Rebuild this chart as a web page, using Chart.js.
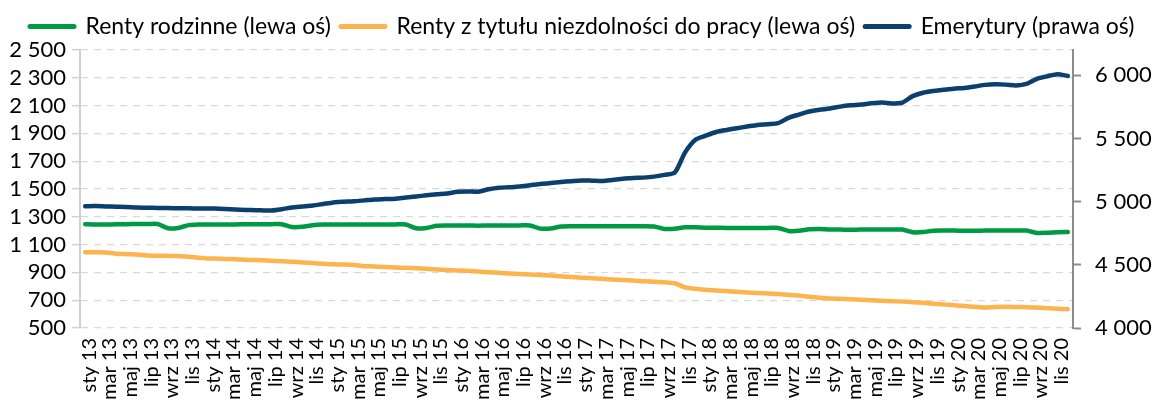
<!DOCTYPE html>
<html>
<head>
<meta charset="utf-8">
<script src="https://cdn.jsdelivr.net/npm/chart.js@4/dist/chart.umd.min.js"></script>
<style>
  html, body { margin: 0; padding: 0; background: #ffffff; }
  #wrap { width: 1157px; height: 400px; }
</style>
</head>
<body>
<div id="wrap"><canvas id="c" width="1157" height="400"></canvas></div>
<script>
const categories = [
  'sty 13','lut 13','mar 13','kwi 13','maj 13','cze 13','lip 13','sie 13','wrz 13','paź 13','lis 13','gru 13',
  'sty 14','lut 14','mar 14','kwi 14','maj 14','cze 14','lip 14','sie 14','wrz 14','paź 14','lis 14','gru 14',
  'sty 15','lut 15','mar 15','kwi 15','maj 15','cze 15','lip 15','sie 15','wrz 15','paź 15','lis 15','gru 15',
  'sty 16','lut 16','mar 16','kwi 16','maj 16','cze 16','lip 16','sie 16','wrz 16','paź 16','lis 16','gru 16',
  'sty 17','lut 17','mar 17','kwi 17','maj 17','cze 17','lip 17','sie 17','wrz 17','paź 17','lis 17','gru 17',
  'sty 18','lut 18','mar 18','kwi 18','maj 18','cze 18','lip 18','sie 18','wrz 18','paź 18','lis 18','gru 18',
  'sty 19','lut 19','mar 19','kwi 19','maj 19','cze 19','lip 19','sie 19','wrz 19','paź 19','lis 19','gru 19',
  'sty 20','lut 20','mar 20','kwi 20','maj 20','cze 20','lip 20','sie 20','wrz 20','paź 20','lis 20','gru 20'
];

// Renty rodzinne (lewa oś)
const rentyRodzinne = [
  1247,1245,1245,1246,1247,1248,1248,1248,1218,1220,1240,1245,
  1245,1245,1245,1246,1246,1247,1247,1247,1226,1228,1240,1244,
  1244,1244,1244,1244,1244,1245,1245,1245,1217,1220,1235,1237,
  1237,1237,1236,1237,1237,1238,1238,1238,1215,1216,1230,1232,
  1232,1232,1232,1232,1232,1232,1232,1230,1213,1214,1225,1224,
  1222,1221,1220,1220,1220,1220,1220,1220,1198,1199,1210,1213,
  1208,1208,1207,1208,1208,1208,1208,1208,1189,1190,1200,1201,
  1201,1200,1200,1201,1201,1201,1201,1201,1184,1185,1189,1191
];

// Renty z tytułu niezdolności do pracy (lewa oś)
const rentyNiezdolnosc = [
  1045,1045,1044,1035,1031,1028,1021,1020,1019,1018,1012,1006,
  1000,999,997,993,990,987,983,980,976,972,967,962,
  958,957,954,945,943,938,935,933,930,926,921,917,
  914,911,906,901,897,892,888,885,881,877,872,867,
  861,858,854,849,845,841,836,833,829,822,792,783,
  775,770,766,760,756,752,748,744,740,733,725,718,
  712,710,707,704,700,696,693,690,686,681,675,670,
  663,658,653,648,651,652,651,650,648,643,638,635
];

// Emerytury (prawa oś)
const emerytury = [
  4964,4965,4962,4960,4958,4953,4952,4950,4949,4948,4947,4946,
  4946,4944,4940,4936,4933,4931,4930,4940,4954,4962,4970,4982,
  4994,4999,5003,5010,5017,5020,5023,5033,5041,5050,5058,5065,
  5078,5081,5079,5098,5110,5114,5119,5130,5140,5147,5155,5162,
  5168,5166,5163,5172,5182,5187,5190,5198,5212,5230,5390,5490,
  5522,5551,5567,5581,5594,5607,5613,5621,5663,5689,5713,5727,
  5737,5752,5762,5768,5778,5784,5777,5784,5835,5862,5876,5886,
  5894,5900,5911,5924,5928,5926,5920,5932,5972,5992,6008,5995
];

const seriesNames = [
  'Renty rodzinne (lewa oś)',
  'Renty z tytułu niezdolności do pracy (lewa oś)',
  'Emerytury (prawa oś)'
];

// tick values
const leftTicks = [500, 700, 900, 1100, 1300, 1500, 1700, 1900, 2100, 2300, 2500];
const rightTicks = [4000, 4500, 5000, 5500, 6000];
const leftRange = [500, 2500];
const rightRange = [4000, 6200];

function fmt(v) {
  return String(v).replace(/\B(?=(\d{3})+(?!\d))/g, ' ');
}

const FONT = 'Lato';

const legendFix = {
  id: 'legendFix',
  beforeLayout(chart) {
    const lg = chart.legend;
    if (lg && !lg._patched) {
      const orig = lg.fit;
      lg.fit = function () { orig.call(this); this.height = 45; };
      lg._patched = true;
    }
  },
  afterLayout(chart) {
    if (chart.legend) { chart.legend.left = 20; }
  }
};

new Chart(document.getElementById('c'), {
  type: 'line',
  data: {
    labels: categories,
    datasets: [
      {
        label: seriesNames[0], data: rentyRodzinne, yAxisID: 'y',
        borderColor: '#009A44', backgroundColor: '#009A44'
      },
      {
        label: seriesNames[1], data: rentyNiezdolnosc, yAxisID: 'y',
        borderColor: '#FDB44E', backgroundColor: '#FDB44E'
      },
      {
        label: seriesNames[2], data: emerytury, yAxisID: 'y1',
        borderColor: '#0B3F6E', backgroundColor: '#0B3F6E'
      }
    ]
  },
  plugins: [legendFix],
  options: {
    responsive: false,
    animation: false,
    devicePixelRatio: 1,
    layout: { padding: { left: 0, right: 0, top: 5, bottom: 0 } },
    elements: {
      line: { borderWidth: 4.5, tension: 0.25, borderCapStyle: 'round', borderJoinStyle: 'round', fill: false },
      point: { radius: 0, hoverRadius: 0 }
    },
    plugins: {
      tooltip: { enabled: false },
      legend: {
        display: true,
        position: 'top',
        align: 'start',
        labels: {
          usePointStyle: true,
          pointStyle: 'line',
          pointStyleWidth: 44,
          boxHeight: 23,
          padding: 10,
          color: '#000000',
          font: { family: FONT, size: 23 },
          generateLabels: function (chart) {
            return Chart.defaults.plugins.legend.labels.generateLabels(chart).map(function (l) {
              l.lineWidth = 5;
              l.lineCap = 'round';
              return l;
            });
          }
        }
      }
    },
    scales: {
      x: {
        type: 'category',
        offset: true,
        grid: { display: false },
        border: { display: false },
        afterFit: s => { s.height = 72; },
        ticks: {
          autoSkip: false,
          maxRotation: 90,
          minRotation: 90,
          padding: 2,
          labelOffset: 4,
          color: '#000000',
          font: { family: FONT, size: 20 },
          callback: function (v, i) { return i % 2 === 0 ? categories[i] : null; }
        }
      },
      y: {
        position: 'left',
        min: leftRange[0],
        max: leftRange[1],
        afterFit: s => { s.width = 80; },
        afterBuildTicks: s => { s.ticks = leftTicks.map(v => ({ value: v })); },
        border: { display: true, color: '#d0d0d0', width: 2, dash: [7, 6] },
        grid: {
          color: '#d9d9d9', lineWidth: 1.3,
          drawTicks: true, tickLength: 8, tickColor: '#d0d0d0', tickWidth: 1.5, tickBorderDash: []
        },
        ticks: {
          autoSkip: false,
          padding: 6,
          color: '#000000',
          font: { family: FONT, size: 22 },
          callback: v => fmt(v)
        }
      },
      y1: {
        position: 'right',
        min: rightRange[0],
        max: rightRange[1],
        afterFit: s => { s.width = 84; },
        afterBuildTicks: s => { s.ticks = rightTicks.map(v => ({ value: v })); },
        border: { display: true, color: '#8c8c8c', width: 2 },
        grid: {
          drawOnChartArea: false,
          drawTicks: true, tickLength: 8, tickColor: '#8c8c8c', tickWidth: 2
        },
        ticks: {
          autoSkip: false,
          padding: 14,
          color: '#000000',
          font: { family: FONT, size: 22 },
          callback: v => fmt(v)
        }
      }
    }
  }
});
</script>
</body>
</html>
